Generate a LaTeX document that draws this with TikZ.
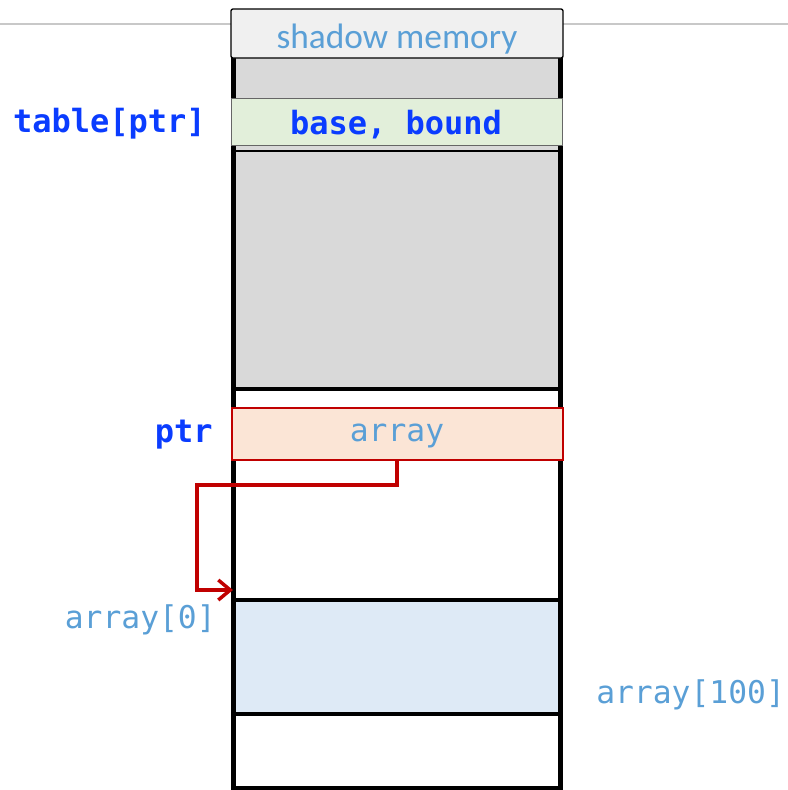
\documentclass[tikz,border=0pt]{standalone}
\usepackage{fontspec}
\setsansfont{Carlito}
\setmonofont{DejaVu Sans Mono}
\usetikzlibrary{arrows.meta}
\definecolor{keyblue}{HTML}{0A3CFF}
\definecolor{valblue}{HTML}{5A9FD6}
\definecolor{rulegray}{HTML}{C8C8C8}
\definecolor{hdrgray}{HTML}{F0F0F0}
\definecolor{shgray}{HTML}{D9D9D9}
\definecolor{metagreen}{HTML}{E2EFDA}
\definecolor{ptrfill}{HTML}{FBE5D6}
\definecolor{arrfill}{HTML}{DEEAF6}
\definecolor{linkred}{HTML}{C00000}
\tikzset{
  keylabel/.style={font=\ttfamily\bfseries\fontsize{24}{26}\selectfont, text=keyblue, inner sep=0pt},
  vallabel/.style={font=\ttfamily\fontsize{23.5}{26}\selectfont, text=valblue, inner sep=0pt},
  cell/.style={minimum width=247.5pt, inner sep=0pt},
  colline/.style={line width=3.3pt, line cap=rect},
}
\begin{document}
\begin{tikzpicture}[x=0.75pt,y=-0.75pt]
\useasboundingbox (0,0) rectangle (788,790);

% slide rule behind the memory column
\draw[rulegray, line width=1.5pt] (0,24) -- (788,24);

% shadow memory region
\node[fill=shgray, minimum width=243pt, minimum height=247.5pt, inner sep=0pt] (shadow) at (397,223) {};

% array storage
\node[cell, fill=arrfill, draw=black, line width=2.8pt, minimum width=246pt, minimum height=85.5pt] (arrblk) at (397,657) {};

% column sides and bottom
\draw[colline] (233.5,58) -- (233.5,788) -- (560.5,788) -- (560.5,58);

% separators inside the column
\draw[line width=1.6pt] (233.5,151) -- (560.5,151);
\draw[line width=3pt] (233.5,389) -- (560.5,389);

% header of the column
\node[cell, draw=black, line width=1pt, fill=hdrgray, rounded corners=1.5pt,
      minimum width=249pt, minimum height=36.75pt] (hdr) at (397,33.5) {};
\node[font=\sffamily\fontsize{26.5}{30}\selectfont, text=valblue, inner sep=0pt] (hdrtext) at (397,39) {shadow memory};

% metadata entry
\node[cell, fill=metagreen, draw=black!60, line width=0.75pt, minimum width=248pt, minimum height=35.25pt] (meta) at (397,121.5) {};
\node[keylabel] (metatext) at (396,124.5) {base, bound};

% pointer variable
\node[cell, fill=ptrfill, draw=linkred, line width=1.2pt, minimum width=248.25pt, minimum height=39pt] (ptrbox) at (397.5,434) {};
\node[vallabel] (ptrval) at (397,435.5) {array};

% pointer link to array[0]
\coordinate (slot) at (233,590);
\draw[linkred, line width=2.6pt, -{Straight Barb[length=9pt,width=15pt]}]
  (ptrbox.south -| ptrval) |- (197,485) |- (slot);

% labels beside the column
\node[keylabel, anchor=east] (tbl) at (206,124) {table[ptr]};
\node[keylabel, anchor=east] (ptrlbl) at (213,434.5) {ptr};
\node[vallabel, anchor=east] (a0) at (216,619.5) {array[0]};
\node[vallabel, anchor=west] (a100) at (596,694.5) {array[100]};
\end{tikzpicture}
\end{document}
